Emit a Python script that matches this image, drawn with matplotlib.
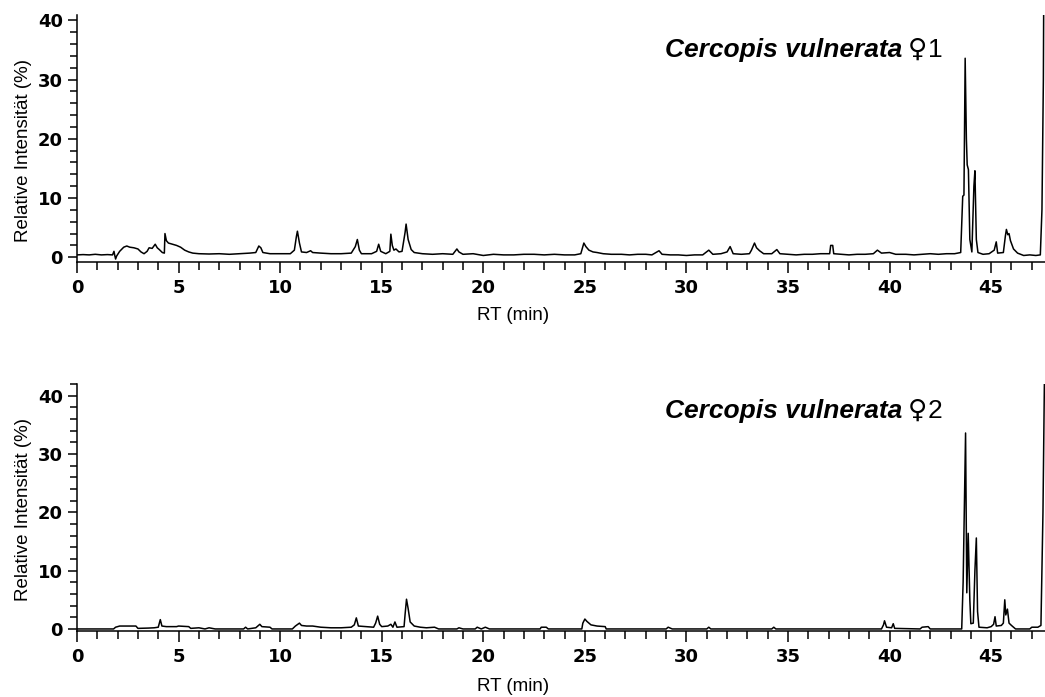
import matplotlib
matplotlib.use("Agg")
import matplotlib.pyplot as plt
from matplotlib.ticker import MultipleLocator

plt.rcParams["font.family"] = ["Liberation Sans", "DejaVu Sans"]

# ---- chromatogram 1 (retention time in min, relative intensity in %) ----
rt1 = [0.0, 0.3, 0.6, 0.9, 1.2, 1.5, 1.75, 1.82, 1.86, 1.9, 1.95, 2.1, 2.3, 2.45,
       2.6, 2.8, 3.0, 3.15, 3.3, 3.45, 3.55, 3.7, 3.85, 3.95, 4.05, 4.2, 4.3, 4.33,
       4.4, 4.5, 4.7, 4.9, 5.1, 5.3, 5.5, 5.7, 6.0, 6.5, 7.0, 7.5, 8.0, 8.5, 8.8,
       8.95, 9.05, 9.15, 9.5, 10.0, 10.5, 10.7, 10.8, 10.85, 10.95, 11.05, 11.3,
       11.5, 11.6, 12.0, 12.5, 13.0, 13.5, 13.7, 13.8, 13.9, 14.0, 14.5, 14.75,
       14.85, 14.95, 15.2, 15.4, 15.45, 15.52, 15.6, 15.7, 15.85, 16.0, 16.15,
       16.2, 16.3, 16.45, 16.6, 17.0, 17.5, 18.0, 18.5, 18.7, 18.8, 19.0, 19.5,
       20.0, 20.5, 21.0, 21.5, 22.0, 22.5, 23.0, 23.5, 24.0, 24.5, 24.8, 24.95,
       25.05, 25.2, 25.4, 25.6, 25.9, 26.3, 26.8, 27.2, 27.6, 28.0, 28.3, 28.65,
       28.8, 29.2, 29.6, 30.0, 30.4, 30.8, 31.1, 31.3, 31.7, 32.0, 32.15, 32.3,
       32.7, 33.1, 33.2, 33.35, 33.45, 33.6, 33.8, 34.2, 34.45, 34.6, 35.0, 35.4,
       35.8, 36.2, 36.6, 37.05, 37.1, 37.2, 37.25, 37.6, 38.0, 38.4, 38.8, 39.2,
       39.4, 39.6, 40.0, 40.3, 40.8, 41.2, 41.6, 42.0, 42.4, 42.8, 43.2, 43.5,
       43.6, 43.66, 43.72, 43.78, 43.82, 43.88, 43.95, 44.05, 44.15, 44.2, 44.27,
       44.35, 44.6, 44.9, 45.15, 45.25, 45.32, 45.6, 45.7, 45.75, 45.82, 45.88,
       45.95, 46.1, 46.3, 46.6, 46.9, 47.2, 47.42, 47.5, 47.57, 47.62]
int1 = [0.4, 0.45, 0.4, 0.5, 0.4, 0.45, 0.4, 1.0, 0.3, -0.3, 0.2, 1.0, 1.7, 1.9,
        1.7, 1.6, 1.4, 0.9, 0.6, 1.0, 1.6, 1.5, 2.2, 1.6, 1.3, 0.8, 0.7, 4.0,
        2.8, 2.4, 2.2, 2.0, 1.7, 1.2, 0.9, 0.7, 0.6, 0.55, 0.6, 0.5, 0.6, 0.7, 0.8,
        1.9, 1.6, 0.8, 0.6, 0.6, 0.6, 1.2, 3.5, 4.4, 2.4, 0.9, 0.8,
        1.1, 0.8, 0.7, 0.6, 0.6, 0.7, 1.8, 3.0, 1.2, 0.6, 0.6, 1.0,
        2.2, 1.0, 0.6, 1.0, 3.9, 2.0, 1.2, 1.4, 0.9, 1.0, 4.2,
        5.6, 3.0, 1.3, 0.8, 0.6, 0.5, 0.6, 0.5, 1.4, 0.9, 0.5, 0.6,
        0.3, 0.5, 0.4, 0.4, 0.5, 0.5, 0.4, 0.5, 0.4, 0.4, 0.6, 2.4,
        1.8, 1.2, 0.9, 0.8, 0.6, 0.5, 0.5, 0.4, 0.5, 0.5, 0.4, 1.1,
        0.5, 0.4, 0.4, 0.3, 0.4, 0.4, 1.2, 0.5, 0.6, 0.9, 1.8, 0.6,
        0.5, 0.6, 1.2, 2.4, 1.6, 1.1, 0.6, 0.6, 1.3, 0.6, 0.5, 0.4,
        0.5, 0.5, 0.6, 0.6, 2.0, 2.0, 0.6, 0.5, 0.4, 0.5, 0.5, 0.6,
        1.2, 0.7, 0.8, 0.5, 0.5, 0.4, 0.5, 0.6, 0.5, 0.6, 0.6, 0.8,
        10.3, 10.5, 33.6, 20.0, 15.6, 14.8, 3.0, 0.9, 12.0, 14.6, 3.0,
        0.8, 0.5, 0.6, 1.2, 2.6, 0.7, 0.8, 3.6, 4.7, 3.8, 4.0,
        2.8, 1.4, 0.7, 0.3, 0.4, 0.3, 0.4, 8.0, 30.0, 70.0]

# ---- chromatogram 2 ----
rt2 = [0.0, 1.8, 1.9, 2.1, 2.9, 3.0, 3.5, 3.8, 4.0, 4.1, 4.18, 4.4, 4.9, 5.0,
       5.5, 5.6, 6.0, 6.3, 6.5, 6.8, 8.2, 8.3, 8.4, 8.8, 9.0, 9.1, 9.5, 9.6,
       10.6, 10.75, 10.95, 11.05, 11.3, 11.6, 12.0, 12.5, 13.0, 13.5, 13.65,
       13.75, 13.85, 14.2, 14.6, 14.7, 14.8, 14.9, 15.0, 15.3, 15.45, 15.55,
       15.65, 15.75, 16.1, 16.15, 16.22, 16.3, 16.4, 16.6, 16.9, 17.2, 17.6,
       17.8, 18.7, 18.8, 19.0, 19.6, 19.7, 19.9, 20.1, 20.3, 22.8, 22.85, 23.1,
       23.2, 24.85, 24.9, 25.0, 25.1, 25.3, 25.6, 26.0, 26.05, 29.0, 29.1, 29.3,
       31.0, 31.1, 31.2, 34.2, 34.3, 34.4, 39.6, 39.7, 39.75, 39.85, 40.1, 40.18,
       40.25, 41.5, 41.6, 41.9, 42.0, 43.55, 43.62, 43.74, 43.8, 43.87, 43.95,
       44.0, 44.12, 44.2, 44.27, 44.33, 44.4, 44.8, 45.0, 45.12, 45.19, 45.25,
       45.5, 45.6, 45.67, 45.72, 45.8, 45.88, 46.0, 46.1, 46.2, 46.9, 47.0, 47.3,
       47.45, 47.55, 47.62, 47.7]
int2 = [0.0, 0.0, 0.3, 0.5, 0.5, 0.1, 0.15, 0.2, 0.3, 1.6, 0.5, 0.4, 0.4, 0.5,
        0.4, 0.1, 0.2, 0.0, 0.2, 0.0, 0.0, 0.3, 0.0, 0.2, 0.8, 0.4, 0.3, 0.0,
        0.0, 0.5, 1.0, 0.6, 0.5, 0.5, 0.3, 0.2, 0.2, 0.3, 0.7,
        1.9, 0.5, 0.4, 0.3, 1.0, 2.2, 0.8, 0.4, 0.5, 0.8, 0.3,
        1.2, 0.3, 0.4, 2.5, 5.1, 3.5, 1.2, 0.5, 0.3, 0.2, 0.3,
        0.0, 0.0, 0.2, 0.0, 0.0, 0.3, 0.0, 0.3, 0.0, 0.0, 0.3, 0.3,
        0.0, 0.0, 1.0, 1.7, 1.3, 0.7, 0.5, 0.4, 0.0, 0.0, 0.3, 0.0,
        0.0, 0.3, 0.0, 0.0, 0.3, 0.0, 0.0, 0.7, 1.4, 0.3, 0.2, 0.9,
        0.1, 0.0, 0.3, 0.4, 0.0, 0.0, 8.0, 33.6, 6.2, 16.4, 5.0,
        0.9, 1.0, 10.0, 15.6, 3.0, 0.3, 0.2, 0.4, 0.8, 2.1, 0.5,
        0.6, 1.0, 5.0, 2.4, 3.4, 1.0, 0.6, 0.3, 0.0, 0.0, 0.3, 0.3,
        0.6, 20.0, 42.2, 42.2]

samples = ["1", "2"]

fig = plt.figure(figsize=(10.45, 6.97), dpi=100)
W, H = 1045, 697


def px_axes(left, top, right, bottom):
    return fig.add_axes([left / W, 1 - bottom / H, (right - left) / W, (bottom - top) / H])


ax1 = px_axes(77, 15, 1045, 262)
ax2 = px_axes(77, 384, 1045, 631)

# axes, data, ylim, ylabel y, xlabel y, title baseline (px)
setup = [(ax1, rt1, int1, (-0.8, 40.9), 0.45, -0.183, 57),
         (ax2, rt2, int2, (-0.35, 42.0), 0.49, -0.19, 418)]

tick_font = {"family": "DejaVu Sans", "weight": "bold", "size": 13}

for (ax, rt, inten, ylim, ylab_y, xlab_y, title_y), s in zip(setup, samples):
    ax.plot(rt, inten, color="black", lw=1.1)
    ax.set_xlim(0, 47.65)
    ax.set_ylim(*ylim)
    ax.spines["top"].set_visible(False)
    ax.spines["right"].set_visible(False)
    ax.spines["left"].set_linewidth(1.1)
    ax.spines["bottom"].set_linewidth(1.1)
    ax.xaxis.set_major_locator(MultipleLocator(5))
    ax.xaxis.set_minor_locator(MultipleLocator(1))
    ax.yaxis.set_major_locator(MultipleLocator(10))
    ax.yaxis.set_minor_locator(MultipleLocator(2))
    ax.tick_params(axis="x", which="major", length=8, width=1.1, pad=4)
    ax.tick_params(axis="x", which="minor", length=6, width=1.1)
    ax.tick_params(axis="y", which="major", length=6.5, width=1.1, pad=3.5)
    ax.tick_params(axis="y", which="minor", length=5, width=1.1)
    for lab in ax.get_xticklabels() + ax.get_yticklabels():
        lab.set_fontproperties(tick_font)
    ax.set_ylabel("Relative Intensität (%)", fontsize=13.5)
    ax.yaxis.set_label_coords(-0.046, ylab_y)
    ax.set_xlabel("RT (min)", fontsize=13.5)
    ax.xaxis.set_label_coords(0.45, xlab_y)

    # sample label: bold italic species name, then "♀" and the number
    y_f = 1 - title_y / H
    t = fig.text(665 / W, y_f, "Cercopis vulnerata", fontsize=19,
                 fontweight="bold", fontstyle="italic", ha="left", va="baseline")
    fig.canvas.draw()
    bb = t.get_window_extent()
    sym = fig.text((bb.x1 + 5) / W, y_f, "\u2640", fontsize=19,
                   family="DejaVu Sans", ha="left", va="baseline")
    fig.canvas.draw()
    bb2 = sym.get_window_extent()
    fig.text((bb2.x1 + 1) / W, y_f, s, fontsize=19, ha="left", va="baseline")

fig.savefig("out.png", dpi=100)
